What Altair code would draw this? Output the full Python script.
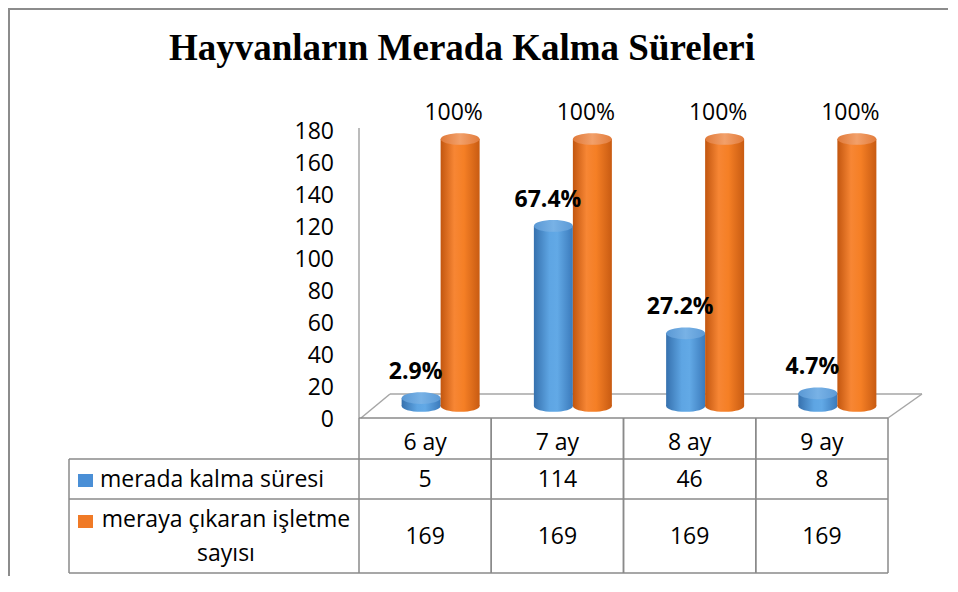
import altair as alt
import pandas as pd

# ---------------- data ----------------
title_text = "Hayvanların Merada Kalma Süreleri"
categories = ["6 ay", "7 ay", "8 ay", "9 ay"]
series_names = ["merada kalma süresi", "meraya çıkaran işletme\nsayısı"]
merada_kalma = [5, 114, 46, 8]
meraya_cikaran = [169, 169, 169, 169]
merada_labels = ["2.9%", "67.4%", "27.2%", "4.7%"]
meraya_labels = ["100%", "100%", "100%", "100%"]
y_ticks = [0, 20, 40, 60, 80, 100, 120, 140, 160, 180]

# ---------------- layout / style ----------------
W, H = 940, 568
SANS = "Open Sans"
FS = 23
GRID = "#8a8a8a"
FLOOR = "#a6a6a6"
BAR_W = 39

x_scale = alt.Scale(domain=categories, range=[351, 880], paddingInner=0, paddingOuter=0)
axis_scale = alt.Scale(domain=[0, 180], range=[412, 123.7])
bar_scale = alt.Scale(domain=[0, 180], range=[398, 113.6])

ELLIPSE = ("M -1 0 C -1 -0.1657 -0.5523 -0.3 0 -0.3 C 0.5523 -0.3 1 -0.1657 1 0 "
           "C 1 0.1657 0.5523 0.3 0 0.3 C -0.5523 0.3 -1 0.1657 -1 0 Z")


def grad(stops):
    return alt.LinearGradient(
        gradient="linear", x1=0, x2=1, y1=0, y2=0,
        stops=[alt.GradientStop(color=c, offset=o) for o, c in stops],
    )


blue_body = grad([(0, "#3671ae"), (0.4, "#5ea5e3"), (0.6, "#62a9e6"), (1, "#3b7abb")])
blue_top = grad([(0, "#5a98d4"), (0.5, "#78b2e6"), (1, "#5c9ad6")])
orange_body = grad([(0, "#c2560f"), (0.35, "#f78634"), (0.6, "#f57f25"), (1, "#c85b12")])
orange_top = grad([(0, "#e07a3a"), (0.5, "#f2a06a"), (1, "#e27c3c")])

df = pd.DataFrame({
    "cat": categories * 2,
    "series": [series_names[0]] * 4 + [series_names[1]] * 4,
    "key": ["blue"] * 4 + ["orange"] * 4,
    "value": merada_kalma + meraya_cikaran,
    "label": merada_labels + meraya_labels,
})
df["zero"] = 0

X = alt.X("cat:N", scale=x_scale, axis=None, sort=categories)
base = alt.Chart(df)
one = alt.Chart(pd.DataFrame({"d": [0]}))

layers = []

# title
layers.append(
    alt.Chart(pd.DataFrame({"t": [title_text]})).mark_text(
        font="Liberation Serif", fontWeight="bold", fontSize=37,
        align="center", baseline="alphabetic", color="#000000",
    ).encode(text="t:N", x=alt.value(454), y=alt.value(52))
)

# outer frame (left, top)
layers.append(one.mark_rule(color="#8c8c8c", strokeWidth=2).encode(
    x=alt.value(1), y=alt.value(0), y2=alt.value(H)))
layers.append(one.mark_rule(color="#8c8c8c", strokeWidth=2).encode(
    x=alt.value(0), x2=alt.value(W), y=alt.value(1)))

# y tick labels
layers.append(
    alt.Chart(pd.DataFrame({"tick": y_ticks})).mark_text(
        font=SANS, fontSize=FS, align="right", baseline="middle", color="#000000"
    ).encode(
        y=alt.Y("tick:Q", scale=axis_scale, axis=None),
        x=alt.value(326),
        text=alt.Text("tick:Q", format="d"),
    )
)

# axis line and 3D floor outline
layers.append(one.mark_rule(color=FLOOR, strokeWidth=1.5).encode(
    x=alt.value(351), y=alt.value(120), y2=alt.value(410)))
layers.append(one.mark_rule(color=FLOOR, strokeWidth=1.5).encode(
    x=alt.value(353), y=alt.value(410), x2=alt.value(382), y2=alt.value(386)))
layers.append(one.mark_rule(color=FLOOR, strokeWidth=1.5).encode(
    x=alt.value(382), x2=alt.value(914), y=alt.value(386)))
layers.append(one.mark_rule(color=FLOOR, strokeWidth=1.5).encode(
    x=alt.value(914), y=alt.value(386), x2=alt.value(880), y2=alt.value(410)))

# cylinders
for key, off, body, top in [("blue", -4, blue_body, blue_top),
                            ("orange", 35, orange_body, orange_top)]:
    sub = base.transform_filter(alt.datum.key == key)
    layers.append(sub.mark_point(
        shape=ELLIPSE, size=BAR_W ** 2, filled=True, opacity=1, fill=body, xOffset=off
    ).encode(x=X, y=alt.Y("zero:Q", scale=bar_scale, axis=None)))
    layers.append(sub.mark_bar(width=BAR_W, xOffset=off, fill=body).encode(
        x=X, y=alt.Y("value:Q", scale=bar_scale, axis=None)))
    layers.append(sub.mark_point(
        shape=ELLIPSE, size=BAR_W ** 2, filled=True, opacity=1, fill=top, xOffset=off
    ).encode(x=X, y=alt.Y("value:Q", scale=bar_scale, axis=None)))

# percentage labels
layers.append(base.transform_filter(alt.datum.key == "blue").mark_text(
    font=SANS, fontSize=FS, fontWeight="bold", dx=-9.5, dy=-26,
    baseline="middle", color="#000000"
).encode(x=X, y=alt.Y("value:Q", scale=bar_scale, axis=None), text="label:N"))
layers.append(base.transform_filter(alt.datum.key == "orange").mark_text(
    font=SANS, fontSize=FS, dx=28.5, dy=-26, baseline="middle", color="#000000"
).encode(x=X, y=alt.Y("value:Q", scale=bar_scale, axis=None), text="label:N"))

# ---------------- data table ----------------
layers.append(one.mark_rule(color=GRID, strokeWidth=1.5).encode(
    x=alt.value(351), x2=alt.value(880), y=alt.value(410)))
for y in [451, 491, 565]:
    layers.append(one.mark_rule(color=GRID, strokeWidth=1.5).encode(
        x=alt.value(61), x2=alt.value(880), y=alt.value(y)))
layers.append(one.mark_rule(color=GRID, strokeWidth=1.5).encode(
    x=alt.value(61), y=alt.value(451), y2=alt.value(565)))
cats_df = pd.DataFrame({"cat": categories})
for bp in [0, 1]:
    layers.append(alt.Chart(cats_df).mark_rule(color=GRID, strokeWidth=1.5).encode(
        x=alt.X("cat:N", scale=x_scale, axis=None, sort=categories, bandPosition=bp),
        y=alt.value(410), y2=alt.value(565)))

layers.append(alt.Chart(cats_df).mark_text(
    font=SANS, fontSize=FS, baseline="middle", color="#000000"
).encode(x=X, y=alt.value(435), text="cat:N"))
layers.append(base.transform_filter(alt.datum.key == "blue").mark_text(
    font=SANS, fontSize=FS, baseline="middle", color="#000000"
).encode(x=X, y=alt.value(472), text="value:Q"))
layers.append(base.transform_filter(alt.datum.key == "orange").mark_text(
    font=SANS, fontSize=FS, baseline="middle", color="#000000"
).encode(x=X, y=alt.value(529), text="value:Q"))

# legend keys + row labels
layers.append(one.mark_rect(color="#4a8fd6").encode(
    x=alt.value(70), x2=alt.value(85), y=alt.value(466), y2=alt.value(479)))
layers.append(one.mark_rect(color="#f07a26").encode(
    x=alt.value(70), x2=alt.value(85), y=alt.value(507), y2=alt.value(520)))
names_df = pd.DataFrame({"name": series_names})
layers.append(alt.Chart(names_df).transform_filter(alt.datum.name == series_names[0]).mark_text(
    font=SANS, fontSize=FS, align="left", baseline="middle", color="#000000"
).encode(x=alt.value(92), y=alt.value(472), text="name:N"))
layers.append(alt.Chart(names_df).transform_filter(alt.datum.name == series_names[1]).mark_text(
    font=SANS, fontSize=FS, align="center", baseline="middle", lineBreak="\n",
    lineHeight=34, color="#000000"
).encode(x=alt.value(218), y=alt.value(512), text="name:N"))

chart = alt.layer(*layers).resolve_scale(y="independent").properties(
    width=W, height=H,
    autosize=alt.AutoSizeParams(type="none"),
    padding=0,
).configure_view(strokeWidth=0)

chart.save("out.html", embed_options={"renderer": "svg", "actions": False})
